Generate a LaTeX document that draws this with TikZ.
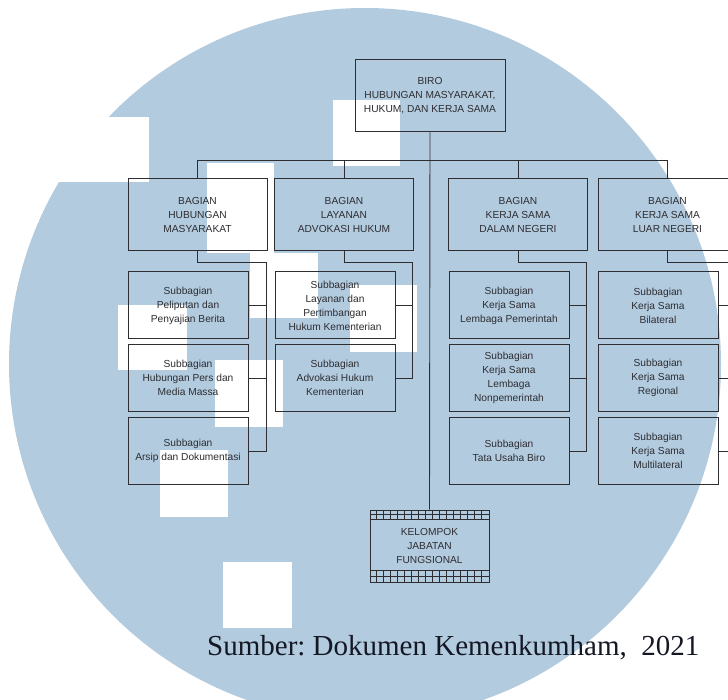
\documentclass[tikz,border=0pt]{standalone}
\usepackage{fontspec}
\setmainfont{Liberation Serif}
\newfontfamily\boxfont{Liberation Sans}
\usetikzlibrary{calc}
\definecolor{wm}{RGB}{179,203,223}
\definecolor{ink}{RGB}{45,45,50}
\definecolor{captionink}{RGB}{20,24,36}
\begin{document}
\frenchspacing
\begin{tikzpicture}[x=1pt,y=-1pt,
  box/.style={draw=ink, line width=1pt, align=center, inner sep=0pt,
    font=\boxfont\fontsize{10.2}{14}\selectfont, text=ink},
  birobox/.style={box, minimum width=150pt, minimum height=72pt},
  bagbox/.style={box, minimum width=139pt, minimum height=72pt},
  subbox/.style={box, minimum width=120pt, minimum height=67pt},
  kelbox/.style={box, minimum width=119pt, minimum height=72pt},
  conn/.style={draw=ink, line width=0.9pt},
  hatch/.style={draw=ink, line width=0.7pt},
  wmwhite/.style={fill=white, draw=none}]
\useasboundingbox (0,0) rectangle (728,700);
% watermark
\fill[wm] (365,364) circle (356pt);
\fill[wmwhite] (0,117) rectangle (149,182);
\fill[wmwhite] (0,182) rectangle (39,222);
\fill[wmwhite] (333,100) rectangle (400,166);
\fill[wmwhite] (207,163) rectangle (274,253);
\fill[wmwhite] (250,253) rectangle (318,318);
\fill[wmwhite] (350,285) rectangle (417,352);
\fill[wmwhite] (118,305) rectangle (187,370);
\fill[wmwhite] (215,360) rectangle (283,427);
\fill[wmwhite] (160,450) rectangle (228,517);
\fill[wmwhite] (223,562) rectangle (292,628);

% top
\node[birobox] (biro) at (430,96) {BIRO\\HUBUNGAN MASYARAKAT,\\HUKUM, DAN KERJA SAMA};

% bagian
\node[bagbox] (bag1) at (197.5,215) {BAGIAN\\HUBUNGAN\\MASYARAKAT};
\node[bagbox] (bag2) at (344,215) {BAGIAN\\LAYANAN\\ADVOKASI HUKUM};
\node[bagbox] (bag3) at (518,215) {BAGIAN\\KERJA SAMA\\DALAM NEGERI};
\node[bagbox] (bag4) at (667.5,215) {BAGIAN\\KERJA SAMA\\LUAR NEGERI};

% subbagian
\node[subbox] (s11) at (188,305.5) {Subbagian\\Peliputan dan\\Penyajian Berita};
\node[subbox] (s12) at (188,378) {Subbagian\\Hubungan Pers dan\\Media Massa};
\node[subbox] (s13) at (188,451) {Subbagian\\Arsip dan Dokumentasi};

\node[subbox] (s21) at (335,305.5) {Subbagian\\Layanan dan\\Pertimbangan\\Hukum Kementerian};
\node[subbox] (s22) at (335,378) {Subbagian\\Advokasi Hukum\\Kementerian};

\node[subbox] (s31) at (509,305.5) {Subbagian\\Kerja Sama\\Lembaga Pemerintah};
\node[subbox] (s32) at (509,378) {Subbagian\\Kerja Sama\\Lembaga\\Nonpemerintah};
\node[subbox] (s33) at (509,451) {Subbagian\\Tata Usaha Biro};

\node[subbox] (s41) at (658,305.5) {Subbagian\\Kerja Sama\\Bilateral};
\node[subbox] (s42) at (658,378) {Subbagian\\Kerja Sama\\Regional};
\node[subbox] (s43) at (658,451) {Subbagian\\Kerja Sama\\Multilateral};

% kelompok jabatan fungsional
\node[kelbox] (kel) at (429.5,546) {KELOMPOK\\JABATAN\\FUNGSIONAL};
\draw[hatch] ($(kel.north west)+(0,10)$) -- ($(kel.north east)+(0,10)$);
\draw[hatch] ($(kel.north west)+(0,5)$) -- ($(kel.north east)+(0,5)$);
\draw[hatch] ($(kel.south west)+(0,-12)$) -- ($(kel.south east)+(0,-12)$);
\draw[hatch] ($(kel.south west)+(0,-6)$) -- ($(kel.south east)+(0,-6)$);
\foreach \i in {1,...,16} {
  \draw[hatch] ($(kel.north west)+(7*\i,0)$) -- ($(kel.north west)+(7*\i,10)$);
  \draw[hatch] ($(kel.south west)+(7*\i,0)$) -- ($(kel.south west)+(7*\i,-12)$);
}

% connectors
\coordinate (bus) at (430,160);
\draw[conn] (biro.south) -- (kel.north);
\draw[conn] (bag1.north) -- (bag1.north |- bus) -- (bag4.north |- bus) -- (bag4.north);
\draw[conn] (bag2.north) -- (bag2.north |- bus);
\draw[conn] (bag3.north) -- (bag3.north |- bus);

\coordinate (j1) at (266.5,262);
\coordinate (j2) at (412,262);
\coordinate (j3) at (586.5,262);
\coordinate (j4) at (737,262);

\draw[conn] (bag1.south) |- (j1) |- (s13.east);
\draw[conn] (s11.east) -- (s11.east -| j1);
\draw[conn] (s12.east) -- (s12.east -| j1);

\draw[conn] (bag2.south) |- (j2) |- (s22.east);
\draw[conn] (s21.east) -- (s21.east -| j2);

\draw[conn] (bag3.south) |- (j3) |- (s33.east);
\draw[conn] (s31.east) -- (s31.east -| j3);
\draw[conn] (s32.east) -- (s32.east -| j3);

\draw[conn] (bag4.south) |- (j4) |- (s43.east);
\draw[conn] (s41.east) -- (s41.east -| j4);
\draw[conn] (s42.east) -- (s42.east -| j4);

% source
\node[anchor=base west, inner sep=0pt, text=captionink,
  font=\fontsize{29}{32}\selectfont] (src) at (207,655) {Sumber: Dokumen Kemenkumham, \ 2021};
\end{tikzpicture}
\end{document}
